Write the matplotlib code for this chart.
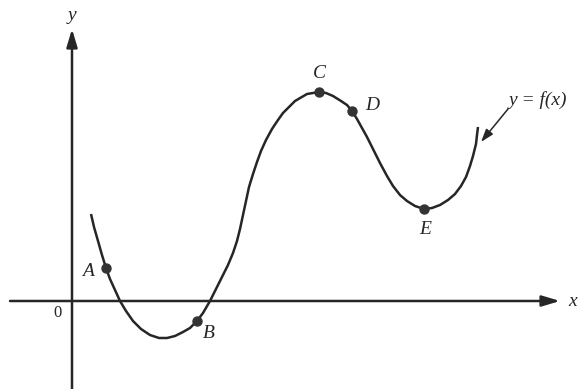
import matplotlib.pyplot as plt

# curve, (x, y) relative to the origin, y up
curve_x = [19, 22, 26, 30, 34, 38, 43, 48, 54, 61, 69, 78, 87, 95, 103, 111, 118, 125, 131,
           138, 144, 150, 156, 161, 165, 168, 171, 174, 177, 181, 185, 189, 194, 200, 206,
           211, 223, 235, 247, 254, 261, 269, 275, 280, 285, 290, 295, 301, 308, 315, 321,
           328, 335, 343, 352, 360, 368, 376, 383, 389, 394, 398, 401, 404, 405, 406]
curve_y = [87, 74, 60, 46, 33, 22, 11, 0, -10, -20, -28, -34, -37, -37, -35, -31, -27, -20, -12,
           0, 12, 24, 36, 48, 60, 72, 86, 100, 114, 127, 139, 150, 161, 172, 181,
           188, 200, 207, 209, 208, 205, 200, 196, 190, 182, 173, 164, 152, 138, 125, 115,
           106, 100, 95, 92, 93, 96, 101, 107, 115, 124, 135, 145, 157, 166, 174]

point_names = ["A", "B", "C", "D", "E"]
point_x = [34, 125, 247, 280, 352]
point_y = [33, -20, 209, 190, 92]
label_dx = [-18, 12, 0, 20, 1]
label_dy = [-4, -12, 18, 5, -20]

fig = plt.figure(figsize=(5.79, 3.89), dpi=100)
ax = fig.add_axes([0, 0, 1, 1])
ax.set_xlim(-72, 507)
ax.set_ylim(-88, 301)
ax.axis("off")

ink = "#262626"
serif = ["Liberation Serif", "DejaVu Serif"]
head = "-|>,head_length=0.6,head_width=0.18"

# axes with arrow heads
ax.annotate("", xy=(488, 0), xytext=(-62, 0),
            arrowprops=dict(arrowstyle=head, color=ink, lw=1.8, mutation_scale=18,
                            shrinkA=0, shrinkB=0))
ax.annotate("", xy=(0, 272), xytext=(0, -90),
            arrowprops=dict(arrowstyle=head, color=ink, lw=1.8, mutation_scale=18,
                            shrinkA=0, shrinkB=0))
ax.text(501, -1, "x", fontsize=14, fontstyle="italic", family=serif, color=ink,
        ha="center", va="center")
ax.text(0, 286, "y", fontsize=14, fontstyle="italic", family=serif, color=ink,
        ha="center", va="center")
ax.text(-14, -12, "0", fontsize=12, family=serif, color=ink, ha="center", va="center")

ax.plot(curve_x, curve_y, color=ink, lw=1.8, solid_capstyle="butt")
ax.scatter(point_x, point_y, s=42, color="#333333", zorder=3)
for name, x, y, dx, dy in zip(point_names, point_x, point_y, label_dx, label_dy):
    ax.text(x + dx, y + dy, name, fontsize=14, fontstyle="italic", family=serif,
            color=ink, ha="center", va="center")

# curve label with pointer
ax.annotate("", xy=(409, 159), xytext=(436, 192),
            arrowprops=dict(arrowstyle="-|>,head_length=0.6,head_width=0.2", color=ink,
                            lw=1.1, mutation_scale=13, shrinkA=0, shrinkB=0))
ax.text(437, 201, "y = f(x)", fontsize=14, fontstyle="italic", family=serif,
        color=ink, ha="left", va="center")

fig.savefig("out.png", dpi=100, facecolor="white")
